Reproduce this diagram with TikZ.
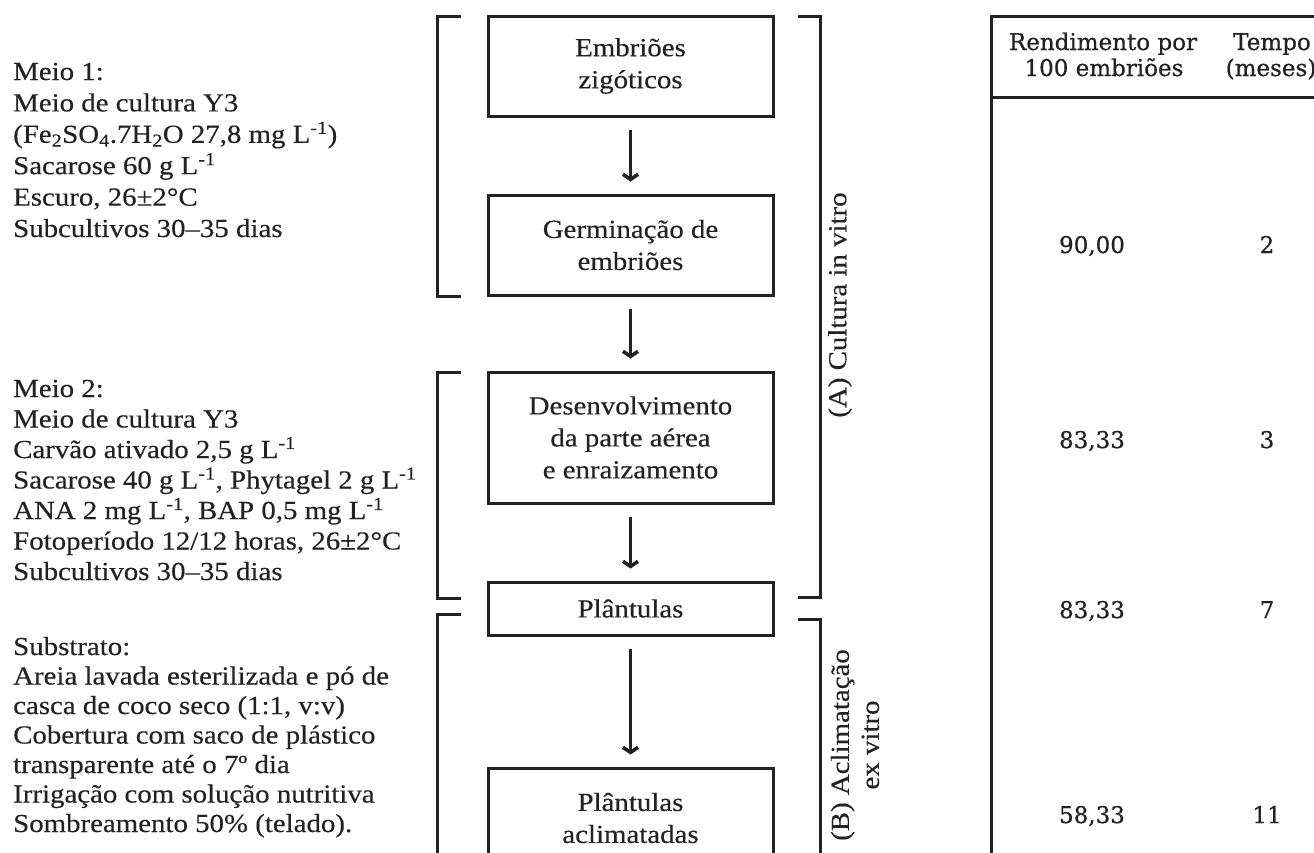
\documentclass[tikz,border=0pt]{standalone}
\usepackage{fontspec}
\setmainfont{Liberation Serif}[FakeStretch=1.11,FakeBold=0.3]
\newfontfamily\hdfont{DejaVu Serif}[FakeBold=0.6]
\usetikzlibrary{arrows.meta}
\definecolor{ink}{HTML}{222222}
\begin{document}
\begin{tikzpicture}[x=1pt,y=-1pt,
  txt/.style={font=\fontsize{26}{31}\selectfont, inner sep=0pt, text=ink},
  stage/.style={draw=ink, line width=3pt, minimum width=285pt, inner sep=0pt, align=center, text=ink, font=\fontsize{26}{32}\selectfont},
  flow/.style={draw=ink, line width=2.4pt, -{Straight Barb[length=5pt,width=15pt,line width=3.6pt]}, shorten <=12pt, shorten >=12pt},
  brk/.style={draw=ink, line width=3pt},
  tab/.style={font=\hdfont\fontsize{23}{26}\selectfont, inner sep=0pt, text=ink},
]
\fill[white] (0,0) rectangle (1314,852);
\useasboundingbox (0,0) rectangle (1314,852);

% left texts
\foreach \mytext [count=\i from 0] in {%
  {Meio 1:},
  {Meio de cultura Y3},
  {(Fe\textsubscript{2}SO\textsubscript{4}.7H\textsubscript{2}O 27,8 mg L\textsuperscript{-1})},
  {Sacarose 60 g L\textsuperscript{-1}},
  {Escuro, 26±2°C},
  {Subcultivos 30–35 dias}}
  \node[txt, anchor=base west] (ma\i) at (13,{80+31.4*\i}) {\mytext};

\foreach \mytext [count=\i from 0] in {%
  {Meio 2:},
  {Meio de cultura Y3},
  {Carvão ativado 2,5 g L\textsuperscript{-1}},
  {Sacarose 40 g L\textsuperscript{-1}, Phytagel 2 g L\textsuperscript{-1}},
  {ANA 2 mg L\textsuperscript{-1}, BAP 0,5 mg L\textsuperscript{-1}},
  {Fotoperíodo 12/12 horas, 26±2°C},
  {Subcultivos 30–35 dias}}
  \node[txt, anchor=base west] (mb\i) at (13,{397+30.5*\i}) {\mytext};

\foreach \mytext [count=\i from 0] in {%
  {Substrato:},
  {Areia lavada esterilizada e pó de},
  {casca de coco seco (1:1, v:v)},
  {Cobertura com saco de plástico},
  {transparente até o 7º dia},
  {Irrigação com solução nutritiva},
  {Sombreamento 50\% (telado).}}
  \node[txt, anchor=base west] (mc\i) at (13,{655+29.5*\i}) {\mytext};

% flow boxes
\node[stage, minimum height=100pt] (b1) at (630.5,66) {Embriões\\zigóticos};
\node[stage, minimum height=100pt] (b2) at (630.5,245) {Germinação de\\embriões};
\node[stage, minimum height=131pt] (b3) at (630.5,437.5) {Desenvolvimento\\da parte aérea\\e enraizamento};
\node[stage, minimum height=53pt] (b4) at (630.5,608.5) {Plântulas};
\node[stage, minimum height=100pt] (b5) at (630.5,818) {Plântulas\\aclimatadas};

\draw[flow] (b1.south) -- (b2.north);
\draw[flow] (b2.south) -- (b3.north);
\draw[flow] (b3.south) -- (b4.north);
\draw[flow] (b4.south) -- (b5.north);

% brackets
\draw[brk] (461,16) -- (437,16) -- (437,296) -- (461,296);
\draw[brk] (461,372) -- (437,372) -- (437,598) -- (461,598);
\draw[brk] (461,614) -- (437,614) -- (437,880);
\draw[brk] (798,16) -- (820,16) -- (820,597) -- (798,597);
\draw[brk] (798,619) -- (820,619) -- (820,880);

\node[txt, rotate=90] (la) at (840,305) {(A) Cultura in vitro};
\node[txt, rotate=90, align=center, font=\fontsize{26}{30}\selectfont] (lb) at (855,745) {(B) Aclimatação\\ex vitro};

% table
\draw[brk] (991,880) -- (991,16) -- (1330,16);
\draw[brk] (991,97) -- (1330,97);
\node[tab, anchor=base] (h1a) at (1103,50) {Rendimento por};
\node[tab, anchor=base] (h1b) at (1104,76) {100 embriões};
\node[tab, anchor=base] (h2a) at (1272,50) {Tempo};
\node[tab, anchor=base] (h2b) at (1271,76) {(meses)};

\node[tab, anchor=base] (v1) at (1092,253) {90,00};
\node[tab, anchor=base] (t1) at (1267,253) {2};
\node[tab, anchor=base] (v2) at (1092,448) {83,33};
\node[tab, anchor=base] (t2) at (1267,448) {3};
\node[tab, anchor=base] (v3) at (1092,618) {83,33};
\node[tab, anchor=base] (t3) at (1267,618) {7};
\node[tab, anchor=base] (v4) at (1092,823) {58,33};
\node[tab, anchor=base] (t4) at (1267,823) {11};
\end{tikzpicture}
\end{document}
